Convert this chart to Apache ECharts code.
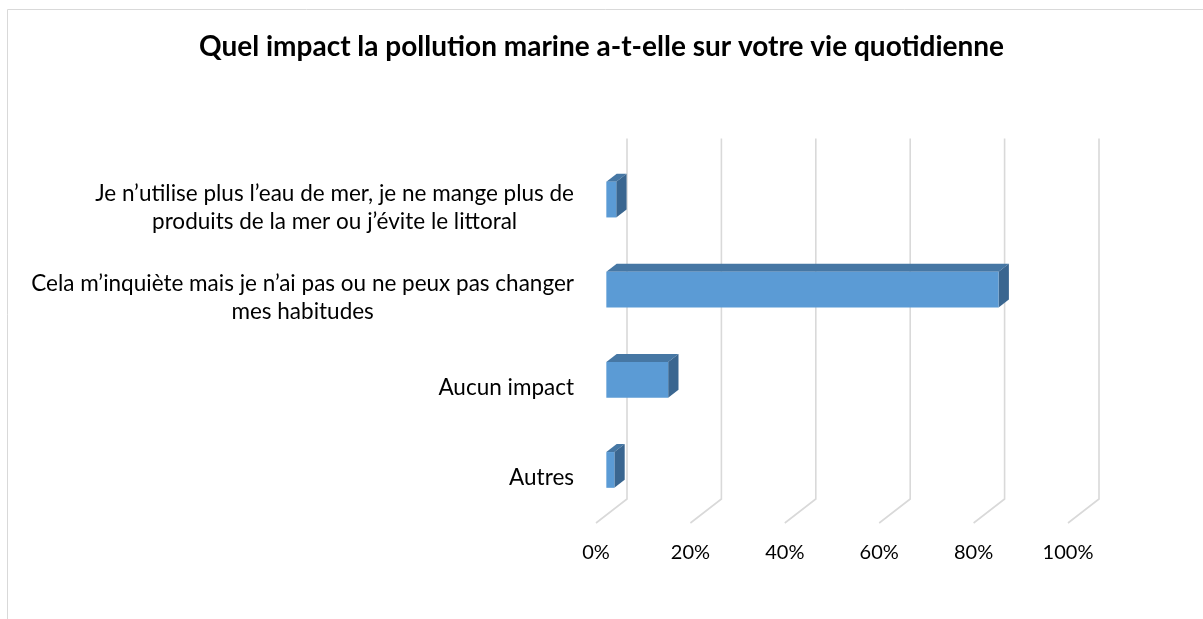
<!DOCTYPE html>
<html>
<head>
<meta charset="utf-8">
<script src="https://cdn.jsdelivr.net/npm/echarts@6/dist/echarts.min.js"></script>
<style>
  html, body { margin: 0; padding: 0; background: #fff; }
  #main { width: 1203px; height: 619px; }
</style>
</head>
<body>
<div id="main"></div>
<script>
// survey answers, top to bottom
var categories = [
    'Je n’utilise plus l’eau de mer, je ne mange plus de\nproduits de la mer ou j’évite le littoral',
    'Cela m’inquiète mais je n’ai pas ou ne peux pas changer\nmes habitudes',
    'Aucun impact',
    'Autres'
];
var values = [2.1, 83.1, 13.1, 1.7];
var ticks = [0, 20, 40, 60, 80, 100];

var FONT = 'Lato, "Open Sans", sans-serif';
// depth of the 3d box (front edge -> back wall)
var DX = 31, DY = -24;

var myChart = echarts.init(document.getElementById('main'));

function wallItem(params, api) {
    var cs = params.coordSys;
    var x = api.coord([api.value(0), 0])[0];
    var bottom = cs.y + cs.height;
    var top = cs.y;
    return {
        type: 'polyline',
        shape: { points: [[x + DX, top + DY], [x + DX, bottom + DY], [x, bottom]] },
        style: { stroke: '#d9d9d9', lineWidth: 1.6, fill: null },
        silent: true
    };
}

function barItem(params, api) {
    var i = api.value(1);
    var p0 = api.coord([0, i]);
    var p1 = api.coord([api.value(0), i]);
    var h = api.size([0, 1])[1] * 0.397;
    var ox = DX / 3, oy = DY / 3;
    var fx0 = p0[0] + ox, fx1 = p1[0] + ox;
    var fy0 = p0[1] + oy - h / 2, fy1 = p0[1] + oy + h / 2;
    return {
        type: 'group',
        children: [
            {
                type: 'polygon',
                shape: { points: [[fx0, fy0], [fx1, fy0], [fx1 + ox, fy0 + oy], [fx0 + ox, fy0 + oy]] },
                style: { fill: '#4677a4' }
            },
            {
                type: 'polygon',
                shape: { points: [[fx1, fy0], [fx1 + ox, fy0 + oy], [fx1 + ox, fy1 + oy], [fx1, fy1]] },
                style: { fill: '#3a6690' }
            },
            {
                type: 'rect',
                shape: { x: fx0, y: fy0, width: fx1 - fx0, height: fy1 - fy0 },
                style: { fill: '#5b9bd5' }
            }
        ]
    };
}

var option = {
    animation: false,
    title: {
        text: 'Quel impact la pollution marine a-t-elle sur votre vie quotidienne',
        left: 'center',
        top: 28,
        textStyle: { fontFamily: FONT, fontSize: 28, fontWeight: 'bold', color: '#000' }
    },
    graphic: [{
        type: 'rect',
        shape: { x: 7.5, y: 9.5, width: 1400, height: 800 },
        style: { fill: null, stroke: '#d9d9d9', lineWidth: 1 },
        silent: true
    }],
    grid: {
        left: 596,
        right: 135,
        top: 162.5,
        bottom: 96
    },
    xAxis: {
        type: 'value',
        min: 0,
        max: 100,
        interval: 20,
        axisLine: { show: false },
        axisTick: { show: false },
        splitLine: { show: false },
        axisLabel: {
            margin: 20,
            fontFamily: FONT,
            fontSize: 20,
            color: '#000',
            formatter: '{value}%'
        }
    },
    yAxis: {
        type: 'category',
        inverse: true,
        data: categories,
        axisLine: { show: false },
        axisTick: { show: false },
        axisLabel: {
            margin: 22,
            fontFamily: FONT,
            fontSize: 22.5,
            color: '#000',
            lineHeight: 28,
            formatter: function (v) {
                return v.split('\n').map(function (s) { return '{c|' + s + '}'; }).join('\n');
            },
            rich: {
                c: { align: 'center', fontFamily: FONT, fontSize: 22.5, lineHeight: 28, color: '#000' }
            }
        }
    },
    series: [
        {
            type: 'custom',
            z: 1,
            renderItem: wallItem,
            encode: { x: 0 },
            data: ticks.map(function (t) { return [t]; })
        },
        {
            type: 'custom',
            z: 2,
            renderItem: barItem,
            encode: { x: 0, y: 1 },
            data: values.map(function (v, i) { return [v, i]; })
        }
    ]
};
myChart.setOption(option);
</script>
</body>
</html>
